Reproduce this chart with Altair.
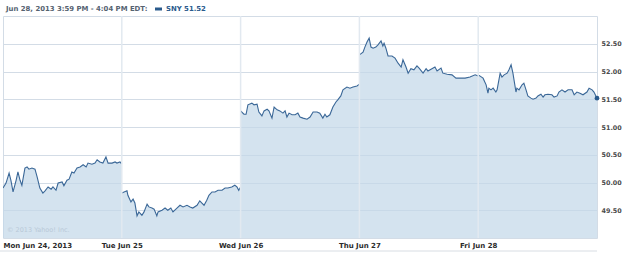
import altair as alt
import pandas as pd

# ---- data ----
day_labels = ["Mon Jun 24, 2013", "Tue Jun 25", "Wed Jun 26", "Thu Jun 27", "Fri Jun 28"]
y_ticks = [49.5, 50.0, 50.5, 51.0, 51.5, 52.0, 52.5]
session_minutes = 390

mon_min = [0,10,20,26,33,43,49,56,62,72,79,85,95,105,112,121,131,138,148,158,164,174,181,194,200,210,217,226,233,243,253,263,273,279,292,302,309,318,328,338,345,358,368,374,384,390]
mon_px = [49.90,49.99,50.17,50.04,49.83,50.04,50.19,50.04,49.95,50.26,50.28,50.24,50.26,50.24,50.10,49.90,49.81,49.85,49.92,49.88,49.92,49.86,49.99,50.01,49.94,50.04,50.06,50.19,50.17,50.26,50.28,50.32,50.28,50.35,50.33,50.35,50.41,50.37,50.35,50.46,50.35,50.35,50.37,50.35,50.37,50.33]

tue_min = [0,17,20,30,37,43,50,56,66,73,83,89,99,106,115,119,132,142,151,161,168,181,191,201,214,224,233,247,256,263,270,279,286,296,306,316,329,339,348,361,371,378,384,390]
tue_px = [49.81,49.85,49.77,49.65,49.70,49.63,49.40,49.47,49.41,49.47,49.61,49.56,49.54,49.52,49.40,49.47,49.50,49.54,49.50,49.54,49.47,49.54,49.59,49.56,49.59,49.56,49.54,49.59,49.67,49.63,49.59,49.68,49.77,49.83,49.83,49.86,49.86,49.90,49.90,49.92,49.95,49.92,49.86,49.92]

wed_min = [0,11,18,24,37,44,54,60,70,77,87,93,103,110,120,129,139,146,152,159,169,179,188,195,205,218,228,238,251,260,270,277,283,293,303,313,319,329,336,349,359,369,382,390]
wed_px = [51.29,51.23,51.23,51.40,51.43,51.40,51.41,51.27,51.20,51.29,51.32,51.29,51.16,51.36,51.31,51.29,51.25,51.29,51.18,51.25,51.22,51.22,51.25,51.18,51.16,51.14,51.18,51.27,51.27,51.25,51.16,51.23,51.18,51.22,51.36,51.45,51.49,51.56,51.67,51.72,51.70,51.72,51.74,51.77]

thu_min = [0,12,18,25,32,38,45,54,61,71,77,81,87,94,107,117,127,137,143,153,160,169,179,189,196,209,219,225,238,248,255,268,274,288,304,317,334,347,363,380,390]
thu_px = [52.30,52.35,52.44,52.53,52.60,52.44,52.42,52.44,52.48,52.55,52.46,52.51,52.42,52.28,52.28,52.24,52.15,52.08,52.21,52.08,51.97,52.05,52.03,52.10,52.06,51.97,52.05,52.01,52.05,52.08,52.01,52.06,51.97,51.95,51.94,51.88,51.88,51.88,51.90,51.94,51.92]

fri_min = [0,16,26,32,35,42,49,58,62,72,78,85,95,101,108,114,124,127,134,144,150,157,163,173,180,190,196,206,213,219,229,242,249,259,265,275,285,295,308,315,324,334,344,357,364,374,380,390]
fri_px = [51.94,51.88,51.76,51.61,51.70,51.67,51.70,51.63,51.67,51.97,51.90,51.94,51.97,52.03,52.12,51.97,51.63,51.70,51.67,51.76,51.79,51.67,51.56,51.52,51.50,51.52,51.56,51.59,51.54,51.58,51.59,51.58,51.54,51.56,51.63,51.67,51.63,51.67,51.67,51.58,51.63,51.61,51.58,51.63,51.70,51.67,51.63,51.52]

header_text = "Jun 28, 2013 3:59 PM - 4:04 PM EDT:"
series_text = "SNY 51.52"
copyright_text = "\u00a9 2013 Yahoo! Inc."

# ---- build table ----
rows = []
for d, (mins, pxs) in enumerate([(mon_min, mon_px), (tue_min, tue_px), (wed_min, wed_px),
                                  (thu_min, thu_px), (fri_min, fri_px)]):
    for m, p in zip(mins, pxs):
        rows.append({"t": d * session_minutes + m, "price": p, "day": d})
df = pd.DataFrame(rows)
last = df.tail(1)
bounds = pd.DataFrame({"t": [session_minutes * i for i in range(1, 5)]})

FONT = "DejaVu Sans"
label_expr = "[" + ",".join("'%s'" % s for s in day_labels) + "][datum.value / %d]" % session_minutes

xscale = alt.Scale(domain=[0, session_minutes * 5], nice=False, zero=False)
yscale = alt.Scale(domain=[49.0, 53.0], nice=False, zero=False)

x_axis = alt.Axis(values=[session_minutes * i for i in range(5)], labelExpr=label_expr,
                  labelFlush=True, ticks=False, domain=False, grid=False, title=None,
                  labelFont=FONT, labelFontSize=7, labelFontWeight="bold",
                  labelColor="#2b2b2b", labelPadding=3)
y_axis = alt.Axis(orient="right", values=y_ticks, format=".2f", ticks=False, domain=False,
                  title=None, grid=True, gridColor="#d3dce6", gridWidth=1, labelFont=FONT,
                  labelFontSize=6.4, labelFontWeight="bold", labelColor="#4a4a4a",
                  labelPadding=4)

X = alt.X("t:Q", scale=xscale, axis=x_axis)
Y = alt.Y("price:Q", scale=yscale, axis=y_axis, stack=None)

base = alt.Chart(df)
area = base.mark_area(color="#c3d8e9", opacity=0.72, clip=True).encode(x=X, y=Y, detail="day:N")
line = base.mark_line(color="#3a6797", strokeWidth=1.1, clip=True).encode(x=X, y=Y, detail="day:N")
vrules = alt.Chart(bounds).mark_rule(color="#e2e9f0", strokeWidth=1.5).encode(
    x=X, y=alt.value(0), y2=alt.value(222))
endpt = alt.Chart(last).mark_point(filled=True, color="#2a5a8c", size=22, opacity=1).encode(x=X, y=Y)

hdr = alt.Chart(pd.DataFrame({"s": [header_text]})).mark_text(
    align="left", baseline="middle", font=FONT, fontSize=6.9, fontWeight="bold", color="#556270"
).encode(x=alt.value(3), y=alt.value(-7), text="s:N")
marker = alt.Chart(pd.DataFrame({"s": [series_text]})).mark_rule(color="#2a5a8c", strokeWidth=3).encode(
    x=alt.value(152), x2=alt.value(159), y=alt.value(-7))
ser = alt.Chart(pd.DataFrame({"s": [series_text]})).mark_text(
    align="left", baseline="middle", font=FONT, fontSize=6.9, fontWeight="bold", color="#2a5a8c"
).encode(x=alt.value(163), y=alt.value(-7), text="s:N")
copy = alt.Chart(pd.DataFrame({"s": [copyright_text]})).mark_text(
    align="left", baseline="middle", font=FONT, fontSize=6.5, color="#b9c9d8"
).encode(x=alt.value(4), y=alt.value(214), text="s:N")
bottom = alt.Chart(pd.DataFrame({"s": [0]})).mark_rule(color="#d8dde3", strokeWidth=1).encode(
    x=alt.value(-3), x2=alt.value(594), y=alt.value(235))

chart = alt.layer(area, line, vrules, endpt, hdr, marker, ser, copy, bottom).properties(
    width=594, height=222, autosize="none",
    padding={"left": 3, "top": 16, "right": 28, "bottom": 16},
    background="white",
).configure_view(stroke="#d3dce6", strokeWidth=1)

chart.save("out.html", embed_options={"renderer": "svg", "actions": False})
